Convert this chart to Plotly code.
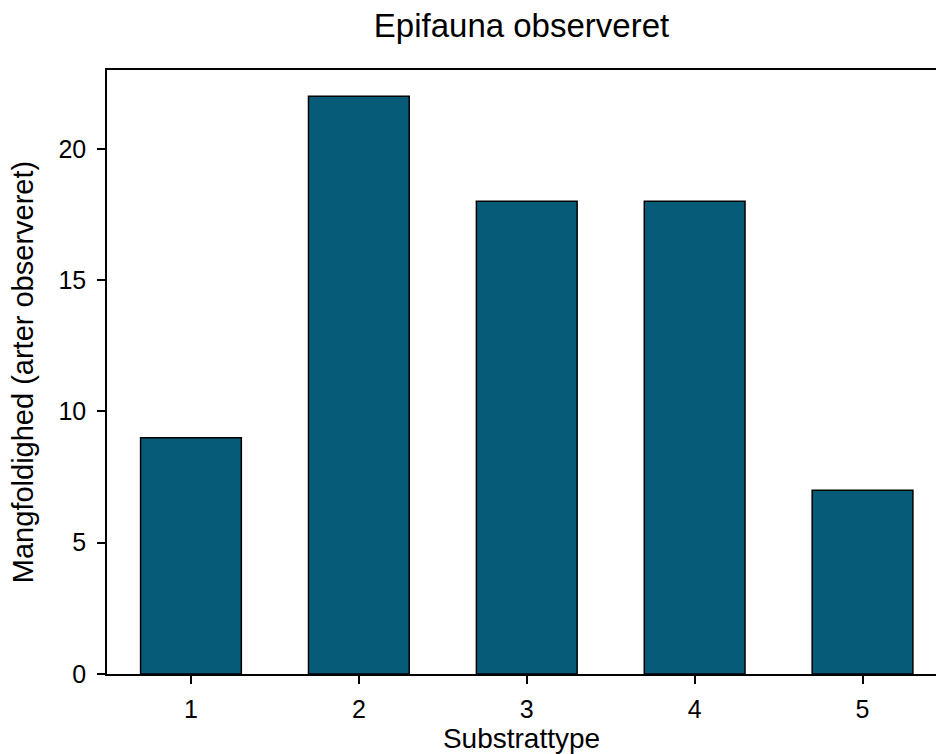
import plotly.graph_objects as go

categories = [1, 2, 3, 4, 5]
values = [9, 22, 18, 18, 7]
y_ticks = [0, 5, 10, 15, 20]

fig = go.Figure(go.Bar(
    x=categories, y=values, width=0.6,
    marker=dict(color="#065b78", line=dict(color="#000000", width=1.5)),
))

fig.update_layout(
    width=936, height=754,
    paper_bgcolor="white", plot_bgcolor="white",
    margin=dict(l=107, r=0, t=70, b=80),
    font=dict(family="Liberation Sans, Arial, sans-serif", color="#000000"),
    title=dict(text="Epifauna observeret", x=0.5, xref="paper", xanchor="center",
               y=0.982, yref="container", yanchor="top", font=dict(size=33)),
    showlegend=False,
)
fig.update_xaxes(
    range=[0.5, 5.4375], tickvals=categories, ticktext=[str(c) for c in categories],
    showline=True, linecolor="#000000", linewidth=1.5, mirror=True,
    ticks="outside", ticklen=8, tickcolor="#000000", tickwidth=1.5,
    showgrid=False, zeroline=False, tickfont=dict(size=25), ticklabelstandoff=4,
    title=dict(text="Substrattype", font=dict(size=28), standoff=2),
)
fig.update_yaxes(
    range=[0, 23], tickvals=y_ticks,
    showline=True, linecolor="#000000", linewidth=1.5, mirror=False,
    ticks="outside", ticklen=8, tickcolor="#000000", tickwidth=1.5,
    showgrid=False, zeroline=False, tickfont=dict(size=25), ticklabelstandoff=6,
    title=dict(text="Mangfoldighed (arter observeret)", font=dict(size=29), standoff=16),
)

fig.write_html("out.html")
